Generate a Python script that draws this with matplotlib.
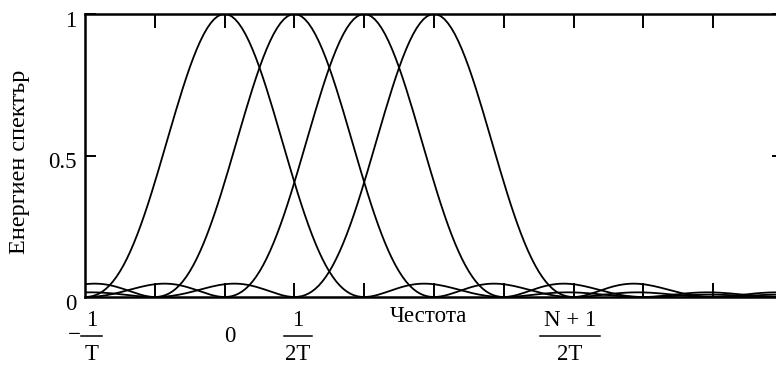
import numpy as np
import matplotlib
matplotlib.use("Agg")
import matplotlib.pyplot as plt
from matplotlib.transforms import ScaledTranslation

plt.rcParams['font.family'] = ['Liberation Serif', 'DejaVu Serif']

# Frequency axis in units of 1/(2T)
f_min, f_max = -2.0, 8.0
centers = [0, 1, 2, 3]          # sub-carrier centre frequencies, k/(2T)
main_lobe_halfwidth = 2.0       # first null at 1/T from each centre
y_ticks = [0, 0.5, 1]
y_tick_labels = ["0", "0.5", "1"]
x_tick_positions = [-1, 0, 1, 2, 3, 4, 5, 6, 7]

# Fraction-style frequency labels: (x position, prefix, numerator, denominator, bar width px)
freq_labels = [
    (-1.90, "\u2212", "1", "T", 21),
    (1.05, "", "1", "2T", 28),
    (4.95, "", "N + 1", "2T", 60),
]
zero_label_x = 0.08

FS = 16.5

fig = plt.figure(figsize=(7.76, 3.65), dpi=100)
W, H = 776, 365
ax_l, ax_r, ax_t, ax_b = 85, 783, 14, 297
ax = fig.add_axes([ax_l / W, 1 - ax_b / H, (ax_r - ax_l) / W, (ax_b - ax_t) / H])

f = np.arange(f_min, f_max + 1e-9, 0.05)
for c in centers:
    s = np.sinc((f - c) / main_lobe_halfwidth) ** 2
    ax.plot(f, s, color='black', lw=1.3, solid_joinstyle='miter')

ax.set_xlim(f_min, f_max)
ax.set_ylim(0, 1)

for sp in ax.spines.values():
    sp.set_linewidth(1.8)

ax.set_xticks(x_tick_positions)
ax.set_xticklabels([])
ax.tick_params(axis='x', direction='in', top=True, bottom=True, length=10, width=1.4)
ax.set_yticks(y_ticks)
ax.set_yticklabels(y_tick_labels, fontsize=FS)
ax.tick_params(axis='y', direction='in', left=True, right=True, length=8, width=1.4, pad=6)
shift = ScaledTranslation(0, -5 / 100, fig.dpi_scale_trans)
for lab in ax.get_yticklabels():
    lab.set_transform(lab.get_transform() + shift)

ax.set_ylabel("Енергиен спектър", fontsize=FS + 1)
ax.yaxis.set_label_coords(-(85 - 30) / (ax_r - ax_l), 0.477)

# Frequency labels drawn beneath the axis
trans = ax.get_xaxis_transform()
px_per_unit = (ax_r - ax_l) / (f_max - f_min)

def fy(py):
    return (ax_b - py) / (ax_b - ax_t)

for x, pre, num, den, bar_px in freq_labels:
    ax.text(x, fy(320.5), num, ha='center', va='center', fontsize=FS, transform=trans, clip_on=False)
    ax.text(x, fy(355), den, ha='center', va='center', fontsize=FS, transform=trans, clip_on=False)
    half = bar_px / 2 / px_per_unit
    ax.plot([x - half, x + half], [fy(336), fy(336)], color='black', lw=1.1,
            transform=trans, clip_on=False)
    if pre:
        ax.text(x - half - 0.01, fy(335), pre, ha='right', va='center', fontsize=FS,
                transform=trans, clip_on=False)

ax.text(zero_label_x, fy(337), "0", ha='center', va='center', fontsize=FS,
        transform=trans, clip_on=False)
ax.text(2.92, fy(317), "Честота", ha='center', va='center', fontsize=FS,
        transform=trans, clip_on=False)

fig.savefig("out.png", dpi=100)
